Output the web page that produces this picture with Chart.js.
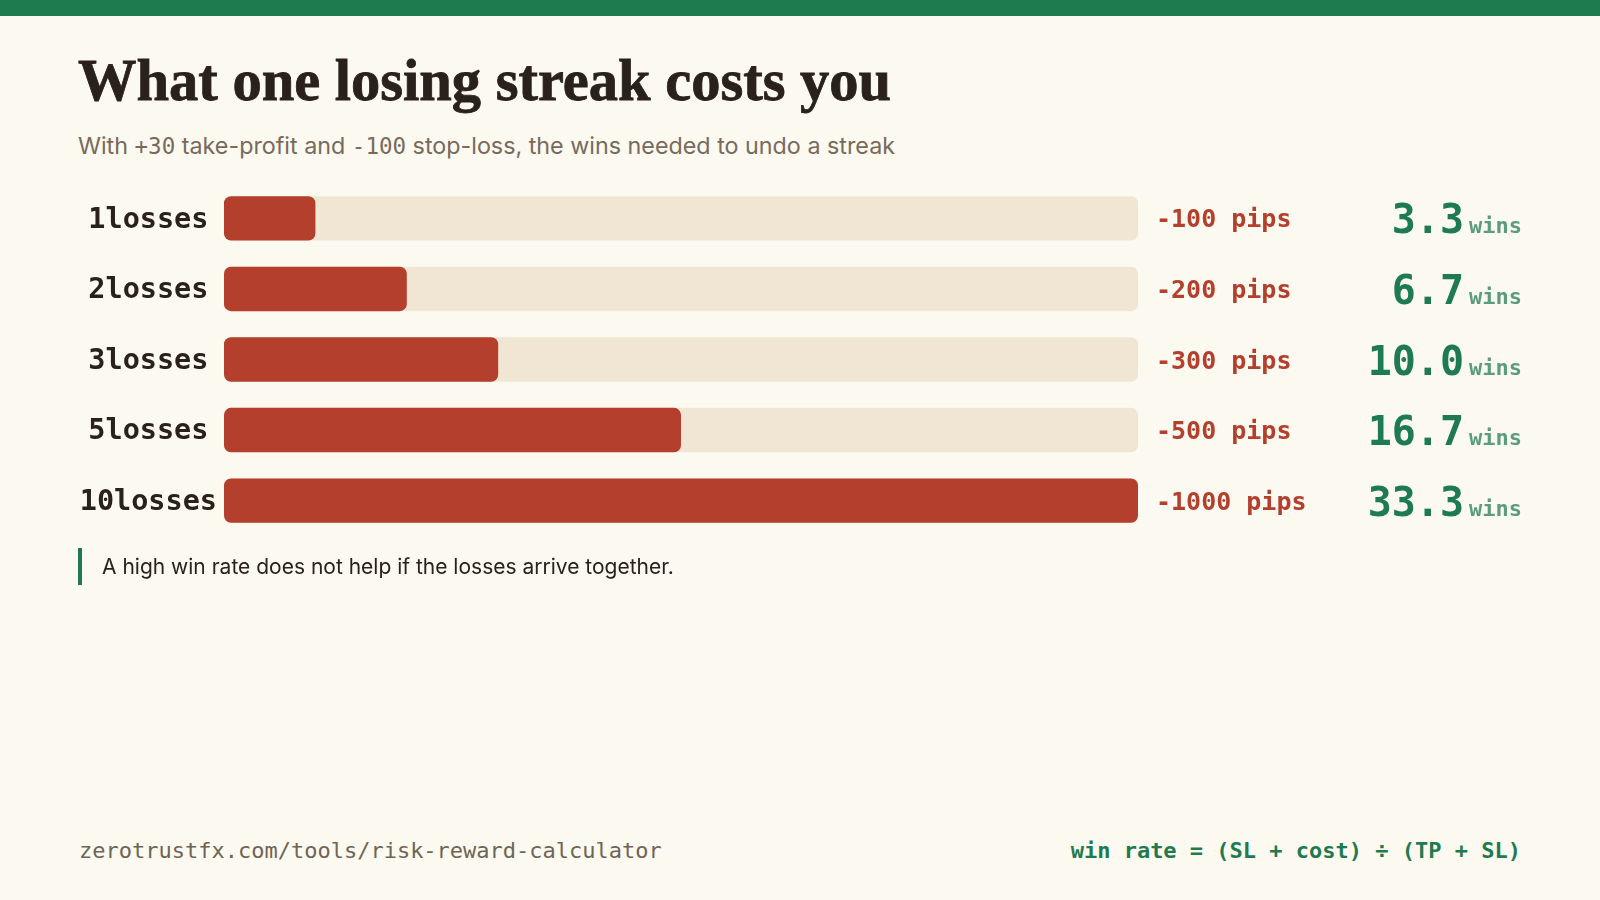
<!DOCTYPE html>
<html>
<head>
<meta charset="utf-8">
<script src="https://cdn.jsdelivr.net/npm/chart.js@4"></script>
<style>
  html, body { margin: 0; padding: 0; }
  body { width: 1600px; height: 900px; background: #fcf9f1; position: relative; overflow: hidden; }
  .topbar { position: absolute; left: 0; top: 0; width: 1600px; height: 16px; background: #1e7b4f; }
  .title { position: absolute; left: 78px; top: 46px; margin: 0; font-family: "Liberation Serif", serif; font-weight: bold; font-size: 58.5px; line-height: 70px; color: #2a211b; -webkit-text-stroke: 0.8px #2a211b; }
  .sub { position: absolute; left: 78px; top: 131px; font-family: Inter, sans-serif; font-size: 23.3px; color: #776a5b; }
  .mono { font-family: "DejaVu Sans Mono", monospace; font-size: 22.5px; }
  .chartbox { position: absolute; left: 0; top: 158.5px; width: 1600px; height: 401px; }
  .note { position: absolute; left: 78px; top: 548px; height: 37px; border-left: 4px solid #1e7b4f; padding-left: 20px; font-family: Inter, sans-serif; font-size: 21px; color: #2a211b; line-height: 37px; }
  .foot { position: absolute; top: 838px; font-family: "DejaVu Sans Mono", monospace; font-size: 22px; }
  .foot.l { left: 79px; color: #6f6454; }
  .foot.r { right: 79px; color: #1e7b4f; font-weight: bold; }
</style>
</head>
<body>
<div class="topbar"></div>
<h1 class="title">What one losing streak costs you</h1>
<div class="sub">With <span class="mono">+30</span> take-profit and <span class="mono">-100</span> stop-loss, the wins needed to undo a streak</div>
<div class="chartbox"><canvas id="streakChart"></canvas></div>
<div class="note">A high win rate does not help if the losses arrive together.</div>
<div class="foot l">zerotrustfx.com/tools/risk-reward-calculator</div>
<div class="foot r">win rate = (SL + cost) ÷ (TP + SL)</div>
<script>
var streaks = ["1losses", "2losses", "3losses", "5losses", "10losses"];
var pipsLost = [100, 200, 300, 500, 1000];
var winsNeeded = [3.3, 6.7, 10.0, 16.7, 33.3];
var trackMax = 1000;

var mono = "'DejaVu Sans Mono', monospace";

var sideLabels = {
    id: "sideLabels",
    afterDatasetsDraw: function(chart) {
        var ctx = chart.ctx;
        var y = chart.scales.y;
        var right = chart.chartArea.right;
        ctx.save();
        ctx.textBaseline = "alphabetic";
        for (var i = 0; i < streaks.length; i++) {
            var cy = y.getPixelForValue(i);
            ctx.font = "bold 25px " + mono;
            ctx.fillStyle = "#b33f2c";
            ctx.textAlign = "left";
            ctx.fillText("-" + pipsLost[i] + " pips", right + 18, cy + 9);

            ctx.font = "bold 40px " + mono;
            ctx.fillStyle = "#1e7b4f";
            ctx.textAlign = "right";
            ctx.fillText(winsNeeded[i].toFixed(1), right + 326, cy + 15);

            ctx.font = "bold 22px " + mono;
            ctx.fillStyle = "#5b9c7d";
            ctx.textAlign = "left";
            ctx.fillText("wins", right + 331, cy + 15);
        }
        ctx.restore();
    }
};

document.addEventListener("DOMContentLoaded", function() {
    var ctx = document.getElementById("streakChart").getContext("2d");

    new Chart(ctx, {
        type: "bar",
        data: {
            labels: streaks,
            datasets: [{
                data: pipsLost,
                backgroundColor: "#b33f2c",
                borderRadius: 7,
                borderSkipped: false,
                barPercentage: 0.63,
                categoryPercentage: 1,
                grouped: false
            }, {
                data: streaks.map(function() { return trackMax; }),
                backgroundColor: "#f1e6d3",
                borderRadius: 7,
                borderSkipped: false,
                barPercentage: 0.63,
                categoryPercentage: 1,
                grouped: false
            }]
        },
        options: {
            indexAxis: "y",
            responsive: true,
            maintainAspectRatio: false,
            animation: false,
            layout: {
                padding: { left: 78, right: 462, top: 12, bottom: 15 }
            },
            scales: {
                x: {
                    display: false,
                    min: 0,
                    max: trackMax
                },
                y: {
                    grid: { display: false, drawTicks: false },
                    border: { display: false },
                    afterFit: function(scale) { scale.width = 146; },
                    ticks: {
                        crossAlign: "center",
                        padding: 7,
                        labelOffset: 2,
                        color: "#2a211b",
                        font: { family: mono, size: 28.5, weight: "bold" }
                    }
                }
            },
            plugins: {
                legend: { display: false },
                tooltip: { enabled: false }
            }
        },
        plugins: [sideLabels]
    });
});
</script>
</body>
</html>
